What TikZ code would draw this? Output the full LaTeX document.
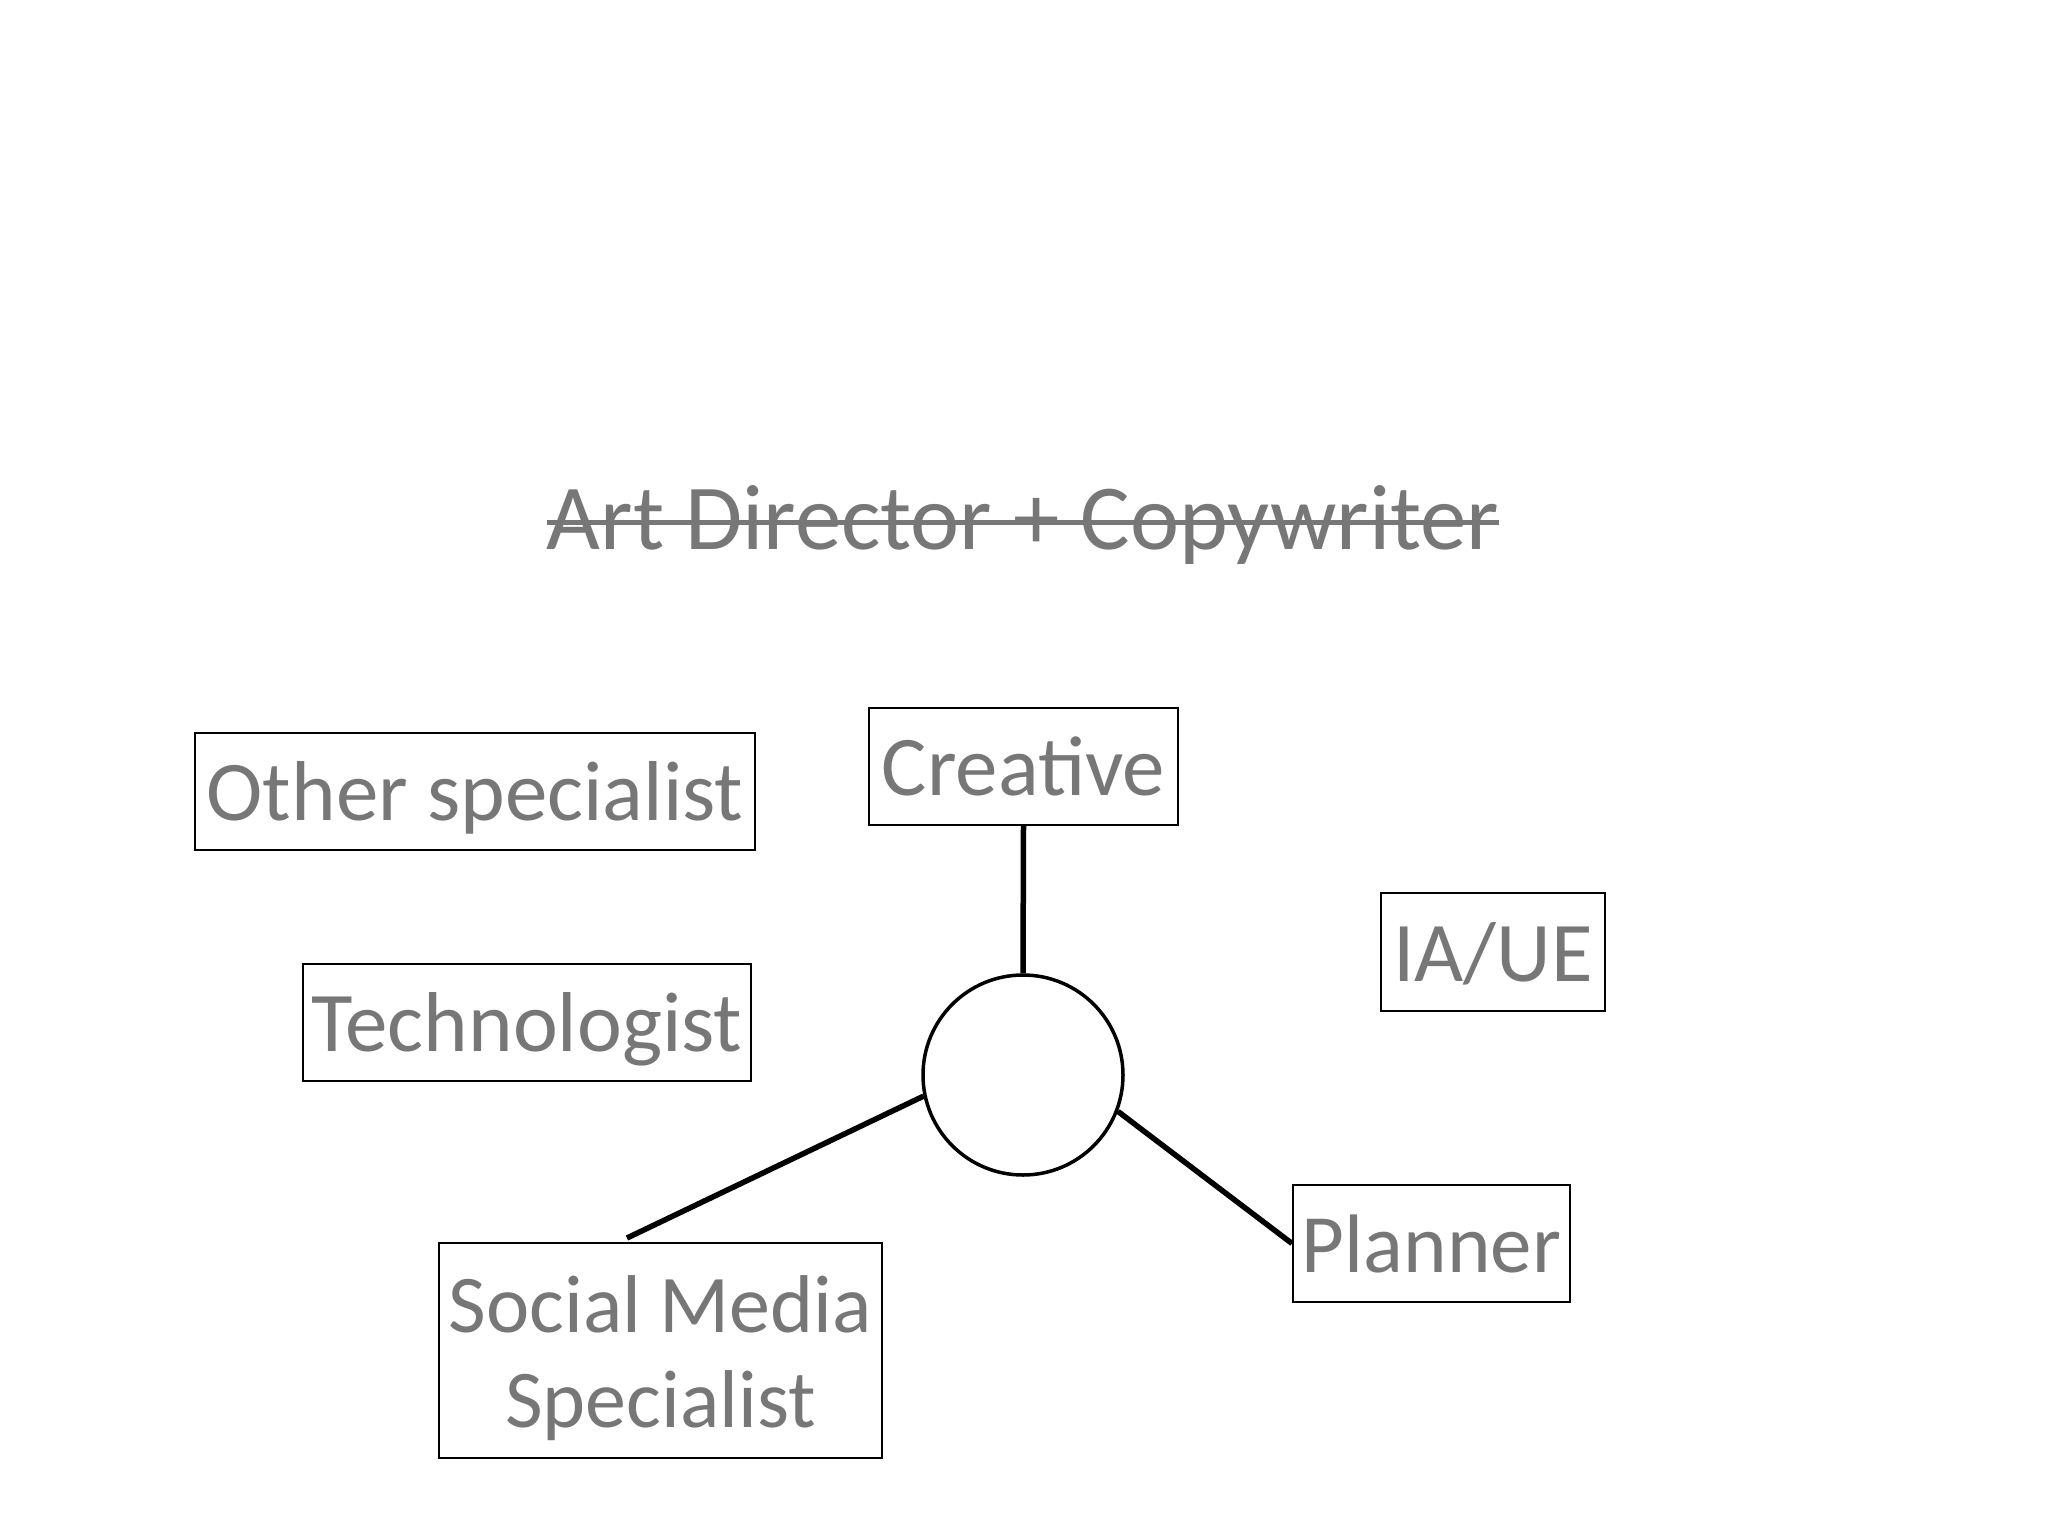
\documentclass[tikz,border=0pt]{standalone}
\usepackage{fontspec}
\setmainfont{Carlito}
\definecolor{txtgray}{HTML}{777777}
\tikzset{
  rolebox/.style={draw=black, line width=2pt, text=txtgray, inner sep=0pt, align=center,
    font=\fontsize{85}{95}\selectfont, text height=76pt, text depth=18pt},
  link/.style={draw=black, line width=5.5pt},
}
\begin{document}
\begin{tikzpicture}[x=1pt,y=-1pt]
\useasboundingbox (0,0) rectangle (2048,1536);
\node[text=txtgray, anchor=base, inner sep=0pt, font=\fontsize{93}{100}\selectfont] (title) at (1023,549) {Art Director + Copywriter};
\draw[txtgray, line width=5pt] ([yshift=27pt]title.base west) -- ([yshift=27pt]title.base east);

\node[rolebox, minimum width=560pt, minimum height=117pt] (other) at (475,791.5) {Other specialist};
\node[rolebox, minimum width=309pt, minimum height=117pt] (creative) at (1023.5,766.5) {Creative};
\node[rolebox, minimum width=224pt, minimum height=118pt] (iaue) at (1493,952) {IA/UE};
\node[rolebox, minimum width=448pt, minimum height=117pt] (tech) at (527,1022.5) {Technologist};
\node[rolebox, minimum width=277pt, minimum height=117pt, font=\fontsize{83}{95}\selectfont] (planner) at (1431.5,1243.5) {Planner};
\node[rolebox, minimum width=443pt, minimum height=215pt, text height=171pt, text depth=18pt, font=\fontsize{82}{95}\selectfont] (social) at (660.5,1350.5) {Social Media\\Specialist};
\node[draw=black, line width=3.5pt, circle, minimum size=200pt, inner sep=0pt] (circ) at (1023,1075) {};

\coordinate (s1) at (627,1238);
\draw[link] (creative.south) -- (circ.north);
\draw[link] (circ.192.5) -- (s1);
\draw[link] (circ.339.4) -- (planner.west);
\end{tikzpicture}
\end{document}
